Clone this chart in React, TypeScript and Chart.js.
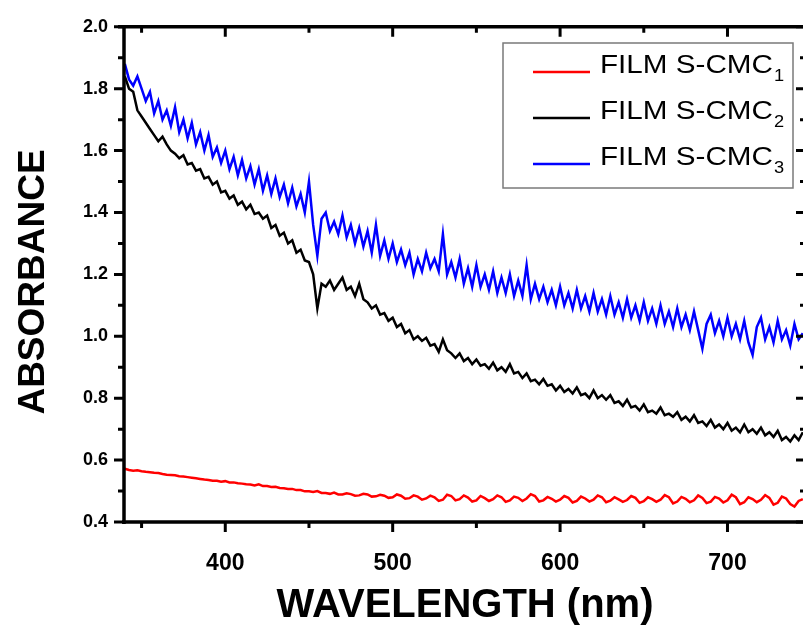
import React, { useEffect, useRef } from "react";
import { Chart, registerables } from "chart.js";

Chart.register(...registerables);

const WAVELENGTHS = [
  340, 342.5, 345, 347.5, 350, 352.5, 355, 357.5, 360, 362.5, 365, 367.5, 370, 372.5, 375, 377.5, 380, 382.5, 385, 387.5,
  390, 392.5, 395, 397.5, 400, 402.5, 405, 407.5, 410, 412.5, 415, 417.5, 420, 422.5, 425, 427.5, 430, 432.5, 435, 437.5,
  440, 442.5, 445, 447.5, 450, 452.5, 455, 457.5, 460, 462.5, 465, 467.5, 470, 472.5, 475, 477.5, 480, 482.5, 485, 487.5,
  490, 492.5, 495, 497.5, 500, 502.5, 505, 507.5, 510, 512.5, 515, 517.5, 520, 522.5, 525, 527.5, 530, 532.5, 535, 537.5,
  540, 542.5, 545, 547.5, 550, 552.5, 555, 557.5, 560, 562.5, 565, 567.5, 570, 572.5, 575, 577.5, 580, 582.5, 585, 587.5,
  590, 592.5, 595, 597.5, 600, 602.5, 605, 607.5, 610, 612.5, 615, 617.5, 620, 622.5, 625, 627.5, 630, 632.5, 635, 637.5,
  640, 642.5, 645, 647.5, 650, 652.5, 655, 657.5, 660, 662.5, 665, 667.5, 670, 672.5, 675, 677.5, 680, 682.5, 685, 687.5,
  690, 692.5, 695, 697.5, 700, 702.5, 705, 707.5, 710, 712.5, 715, 717.5, 720, 722.5, 725, 727.5, 730, 732.5, 735, 737.5,
  740, 742.5, 745,
];

const S_CMC1 = [
  0.572, 0.568, 0.566, 0.567, 0.564, 0.562, 0.561, 0.559, 0.558, 0.555, 0.553, 0.552, 0.551, 0.548, 0.547, 0.545, 0.543, 0.541, 0.539, 0.537,
  0.536, 0.533, 0.533, 0.53, 0.532, 0.528, 0.528, 0.525, 0.524, 0.522, 0.521, 0.518, 0.522, 0.516, 0.516, 0.513, 0.514, 0.51, 0.509, 0.507,
  0.507, 0.503, 0.503, 0.499, 0.499, 0.497, 0.5, 0.494, 0.494, 0.491, 0.495, 0.489, 0.489, 0.493, 0.49, 0.485, 0.486, 0.491, 0.489, 0.482,
  0.483, 0.488, 0.485, 0.478, 0.48, 0.489, 0.485, 0.475, 0.477, 0.486, 0.482, 0.472, 0.476, 0.485, 0.48, 0.468, 0.472, 0.488, 0.484, 0.47,
  0.474, 0.486, 0.479, 0.466, 0.47, 0.484, 0.477, 0.468, 0.474, 0.486, 0.48, 0.465, 0.47, 0.482, 0.478, 0.468, 0.476, 0.49, 0.484, 0.466,
  0.47, 0.481, 0.475, 0.466, 0.472, 0.484, 0.478, 0.463, 0.468, 0.482, 0.476, 0.466, 0.472, 0.486, 0.48, 0.464, 0.469, 0.48, 0.473, 0.465,
  0.471, 0.484, 0.478, 0.462, 0.467, 0.48, 0.474, 0.465, 0.472, 0.487, 0.48, 0.46, 0.466, 0.481, 0.475, 0.464, 0.47, 0.486, 0.478, 0.461,
  0.466, 0.481, 0.476, 0.463, 0.47, 0.488, 0.48, 0.458, 0.464, 0.48, 0.474, 0.464, 0.472, 0.487, 0.478, 0.456, 0.462, 0.482, 0.476, 0.458,
  0.45, 0.468, 0.474,
];

const S_CMC2 = [
  1.84, 1.8, 1.79, 1.73, 1.71, 1.69, 1.67, 1.65, 1.63, 1.645, 1.62, 1.6, 1.59, 1.575, 1.585, 1.555, 1.56, 1.535, 1.54, 1.51,
  1.515, 1.49, 1.5, 1.465, 1.47, 1.445, 1.455, 1.425, 1.435, 1.41, 1.425, 1.395, 1.4, 1.38, 1.39, 1.35, 1.36, 1.325, 1.335, 1.3,
  1.31, 1.27, 1.28, 1.245, 1.24, 1.2, 1.09, 1.17, 1.16, 1.18, 1.15, 1.17, 1.19, 1.15, 1.16, 1.13, 1.17, 1.12, 1.11, 1.09,
  1.1, 1.07, 1.075, 1.05, 1.06, 1.03, 1.04, 1.01, 1.02, 0.99, 1.0, 0.985, 0.995, 0.97, 0.975, 0.95, 0.99, 0.955, 0.945, 0.93,
  0.945, 0.92, 0.93, 0.91, 0.925, 0.905, 0.91, 0.895, 0.915, 0.89, 0.9, 0.885, 0.91, 0.88, 0.885, 0.865, 0.88, 0.855, 0.86, 0.845,
  0.862, 0.84, 0.845, 0.825, 0.84, 0.82, 0.83, 0.815, 0.835, 0.81, 0.815, 0.8, 0.825, 0.8, 0.81, 0.795, 0.81, 0.785, 0.79, 0.775,
  0.795, 0.77, 0.775, 0.76, 0.78, 0.755, 0.76, 0.75, 0.77, 0.745, 0.75, 0.74, 0.755, 0.73, 0.74, 0.725, 0.745, 0.72, 0.725, 0.71,
  0.73, 0.705, 0.715, 0.7, 0.72, 0.695, 0.705, 0.69, 0.715, 0.69, 0.7, 0.685, 0.705, 0.68, 0.69, 0.675, 0.695, 0.665, 0.675, 0.66,
  0.68, 0.665, 0.69,
];

const S_CMC3 = [
  1.88, 1.83, 1.81, 1.84, 1.8, 1.76, 1.79, 1.72, 1.76, 1.7, 1.73, 1.68, 1.74, 1.66, 1.7, 1.64, 1.69, 1.62, 1.66, 1.6,
  1.65, 1.58, 1.61, 1.56, 1.6, 1.54, 1.58, 1.52, 1.57, 1.51, 1.55, 1.49, 1.54, 1.47, 1.52, 1.46, 1.51, 1.45, 1.49, 1.43,
  1.48, 1.42, 1.46, 1.4, 1.5, 1.36, 1.26, 1.38, 1.4, 1.34, 1.37, 1.33, 1.39, 1.32, 1.36, 1.3, 1.35, 1.29, 1.34, 1.27,
  1.36, 1.26, 1.31, 1.25, 1.3, 1.24, 1.28, 1.23, 1.27, 1.2, 1.25, 1.21, 1.27, 1.22, 1.25, 1.21, 1.33, 1.2, 1.24, 1.19,
  1.25, 1.17, 1.22, 1.16, 1.23, 1.16, 1.2, 1.15, 1.21, 1.14, 1.19, 1.14, 1.2, 1.13, 1.18, 1.13, 1.23, 1.12, 1.17, 1.12,
  1.16, 1.11, 1.15, 1.1, 1.16, 1.1, 1.14, 1.09, 1.15, 1.09, 1.13, 1.08, 1.14, 1.08, 1.12, 1.07, 1.13, 1.07, 1.11, 1.06,
  1.12, 1.06, 1.1, 1.05, 1.11, 1.05, 1.09, 1.04, 1.1, 1.04, 1.08, 1.03, 1.09, 1.03, 1.07, 1.02, 1.08, 1.02, 0.96, 1.04,
  1.07, 1.01, 1.05, 1.0, 1.06, 1.0, 1.04, 0.99, 1.05, 0.98, 0.94, 1.03, 1.06, 0.99, 1.03, 0.98, 1.05, 0.99, 1.02, 0.97,
  1.04, 0.99, 1.01,
];

const SERIES_LABELS = ["FILM S-CMC", "FILM S-CMC", "FILM S-CMC"];
const SERIES_SUBS = ["1", "2", "3"];
const SERIES_COLORS = ["#ff0000", "#000000", "#0000ff"];

const X_TICKS = [400, 500, 600, 700];
const X_MINOR = [350, 450, 550, 650];
const Y_TICKS = [0.4, 0.6, 0.8, 1.0, 1.2, 1.4, 1.6, 1.8, 2.0];
const Y_MINOR = [0.5, 0.7, 0.9, 1.1, 1.3, 1.5, 1.7, 1.9];

const X_TITLE = "WAVELENGTH (nm)";
const Y_TITLE = "ABSORBANCE";

const FONT = "'Liberation Sans', Arial, Helvetica, sans-serif";

const framePlugin = {
  id: "frame",
  afterDraw(chart: any) {
    const { ctx, chartArea, scales } = chart;
    const { left, right, top, bottom } = chartArea;
    const xs = scales.x;
    const ys = scales.y;
    ctx.save();
    ctx.strokeStyle = "#000";
    ctx.lineCap = "butt";
    ctx.lineWidth = 3.5;
    ctx.beginPath();
    ctx.moveTo(left - 6, top);
    ctx.lineTo(right + 2, top);
    ctx.moveTo(left, top);
    ctx.lineTo(left, bottom + 2);
    ctx.moveTo(left - 2, bottom);
    ctx.lineTo(right + 2, bottom);
    ctx.moveTo(right, top);
    ctx.lineTo(right, bottom);
    ctx.stroke();

    ctx.lineWidth = 3;
    ctx.beginPath();
    const tick = (vals: number[], len: number) => {
      vals.forEach((v) => {
        const py = ys.getPixelForValue(v);
        ctx.moveTo(left - len, py);
        ctx.lineTo(left, py);
        ctx.moveTo(right, py);
        ctx.lineTo(right - len, py);
      });
    };
    tick(Y_TICKS, 10);
    tick(Y_MINOR, 6);
    const xtick = (vals: number[], len: number) => {
      vals.forEach((v) => {
        const px = xs.getPixelForValue(v);
        ctx.moveTo(px, bottom);
        ctx.lineTo(px, bottom + len);
        ctx.moveTo(px, top);
        ctx.lineTo(px, top + len);
      });
    };
    xtick(X_TICKS, 10);
    xtick(X_MINOR, 6);
    ctx.stroke();

    // Y axis title
    ctx.save();
    ctx.translate(34, 282);
    ctx.rotate(-Math.PI / 2);
    ctx.fillStyle = "#000";
    ctx.font = `bold 37px ${FONT}`;
    ctx.textAlign = "center";
    ctx.textBaseline = "middle";
    ctx.fillText(Y_TITLE, 0, 0);
    ctx.restore();

    ctx.restore();
  },
};

const legendPlugin = {
  id: "customLegend",
  afterDraw(chart: any) {
    const { ctx } = chart;
    const bx = 503;
    const by = 43;
    const bw = 290;
    const bh = 145;
    ctx.save();
    ctx.fillStyle = "#ffffff";
    ctx.fillRect(bx, by, bw, bh);
    ctx.strokeStyle = "#7a7a7a";
    ctx.lineWidth = 1.5;
    ctx.strokeRect(bx, by, bw, bh);
    SERIES_LABELS.forEach((label, i) => {
      const baseY = 73 + i * 46;
      ctx.strokeStyle = SERIES_COLORS[i];
      ctx.lineWidth = 2.5;
      ctx.beginPath();
      ctx.moveTo(533, baseY - 1);
      ctx.lineTo(590, baseY - 1);
      ctx.stroke();
      ctx.save();
      ctx.translate(600, baseY);
      ctx.scale(1.14, 1);
      ctx.fillStyle = "#000";
      ctx.textBaseline = "alphabetic";
      ctx.textAlign = "left";
      ctx.font = `26px ${FONT}`;
      ctx.fillText(label, 0, 0);
      const w = ctx.measureText(label).width;
      ctx.font = `16px ${FONT}`;
      ctx.fillText(SERIES_SUBS[i], w + 1, 8);
      ctx.restore();
    });
    ctx.restore();
  },
};

export default function App() {
  const canvasRef = useRef<HTMLCanvasElement | null>(null);

  useEffect(() => {
    if (!canvasRef.current) return;
    const datasets = [S_CMC1, S_CMC2, S_CMC3].map((arr, i) => ({
      label: SERIES_LABELS[i] + SERIES_SUBS[i],
      data: WAVELENGTHS.map((w, j) => ({ x: w, y: arr[j] })),
      borderColor: SERIES_COLORS[i],
      backgroundColor: SERIES_COLORS[i],
      borderWidth: 2.5,
      pointRadius: 0,
      tension: 0,
      fill: false,
    }));
    const chart = new Chart(canvasRef.current, {
      type: "line",
      data: { datasets },
      options: {
        animation: false,
        responsive: false,
        devicePixelRatio: 1,
        layout: { padding: { top: 15, right: 24, left: 0, bottom: 0 } },
        plugins: { legend: { display: false }, tooltip: { enabled: false } },
        scales: {
          x: {
            type: "linear",
            min: 339.5,
            max: 746.9,
            grid: { display: false, drawTicks: false },
            border: { display: false },
            afterFit: (s: any) => {
              s.height = 106;
            },
            afterBuildTicks: (s: any) => {
              s.ticks = X_TICKS.map((v) => ({ value: v }));
            },
            ticks: {
              color: "#000",
              font: { family: FONT, size: 23, weight: "bold" },
              padding: 28,
              maxRotation: 0,
              autoSkip: false,
              callback: (v: any) => String(v),
            },
            title: {
              display: true,
              text: X_TITLE,
              color: "#000",
              font: { family: FONT, size: 40, weight: "bold" },
              padding: { top: 0, bottom: -2 },
            },
          },
          y: {
            type: "linear",
            min: 0.4,
            max: 2.0,
            grid: { display: false, drawTicks: false },
            border: { display: false },
            afterFit: (s: any) => {
              s.width = 124;
            },
            afterBuildTicks: (s: any) => {
              s.ticks = Y_TICKS.map((v) => ({ value: v }));
            },
            ticks: {
              color: "#000",
              font: { family: FONT, size: 18, weight: "bold" },
              padding: 16,
              autoSkip: false,
              callback: (v: any) => Number(v).toFixed(1),
            },
            title: { display: false },
          },
        },
      },
      plugins: [framePlugin, legendPlugin],
    });
    return () => chart.destroy();
  }, []);

  return (
    <div
      style={{
        position: "absolute",
        left: 0,
        top: 0,
        width: 803,
        height: 628,
        overflow: "hidden",
        background: "#fff",
      }}
    >
      <canvas ref={canvasRef} width={830} height={628} style={{ display: "block" }} />
    </div>
  );
}
